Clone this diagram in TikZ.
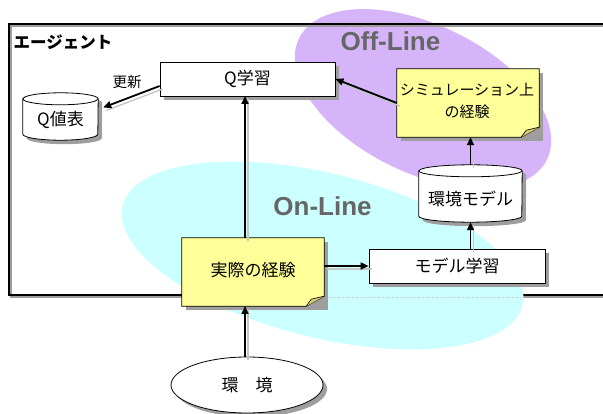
\documentclass[tikz,border=0pt]{standalone}
\usepackage{fontspec}
\setmainfont{Noto Sans CJK JP}
\newfontfamily\arialf{Liberation Sans}
\usetikzlibrary{arrows.meta,calc,shadows,shapes.geometric}
\pgfdeclarelayer{back}
\pgfdeclarelayer{mid}
\pgfsetlayers{back,mid,main}
\definecolor{noteyellow}{HTML}{FFFF99}
\definecolor{foldc}{HTML}{D8CC70}
\definecolor{offpurple}{RGB}{214,180,250}
\definecolor{oncyan}{HTML}{CCFFFF}
\definecolor{shadowc}{gray}{0.62}
\definecolor{labelgray}{HTML}{666666}
\newcommand\cylpath[3]{($(#1.north west)+(0,-#3)$) -- ($(#1.south west)+(0,#3)$) arc[start angle=180,end angle=360,x radius=#2,y radius=#3] -- ($(#1.north east)+(0,-#3)$) arc[start angle=0,end angle=180,x radius=#2,y radius=#3] -- cycle}
\newcommand\drawcyl[3]{%
  \fill[shadowc, transform canvas={shift={(4pt,-4pt)}}] \cylpath{#1}{#2}{#3};
  \draw[fill=white, line width=0.8pt] \cylpath{#1}{#2}{#3};
  \draw[line width=0.8pt] ($(#1.north west)+(0,-#3)$) arc[start angle=180,end angle=360,x radius=#2,y radius=#3];}
\newcommand\drawnote[1]{%
  \fill[shadowc, transform canvas={shift={(4pt,-4pt)}}] (#1.north west) rectangle (#1.south east);
  \draw[fill=noteyellow, line width=0.8pt] (#1.north west) -- (#1.north east) -- ($(#1.south east)+(0,10)$) -- ($(#1.south east)+(-18,0)$) -- (#1.south west) -- cycle;
  \draw[fill=foldc, line width=0.6pt] ($(#1.south east)+(-18,0)$) -- ($(#1.south east)+(-13,7)$) -- ($(#1.south east)+(0,10)$);}
\begin{document}
\begin{tikzpicture}[x=1pt,y=1pt,
  txt/.style={inner sep=0pt, font=\fontsize{17}{20}\selectfont},
  holder/.style={inner sep=0pt, draw=none},
  boxn/.style={draw, line width=0.8pt, fill=white, inner sep=0pt, font=\fontsize{17}{20}\selectfont,
    drop shadow={shadow xshift=4pt, shadow yshift=-4pt, fill=shadowc, opacity=1}},
  envshape/.style={ellipse, draw, line width=0.8pt, fill=white, inner sep=0pt, font=\fontsize{17}{20}\selectfont,
    drop shadow={shadow xshift=4pt, shadow yshift=-4pt, fill=shadowc, opacity=1}},
  bigtag/.style={inner sep=0pt, text=labelgray, font=\arialf\bfseries\fontsize{26}{30}\selectfont},
  arr/.style={draw=black, line width=1.8pt, -{Triangle[length=8pt,width=7pt]}},
  arrshadow/.style={draw=gray!45, line width=1.4pt, transform canvas={shift={(3pt,-3pt)}}}]
\useasboundingbox (0,0) rectangle (603,-414);

% nodes
\node[boxn, minimum width=175pt, minimum height=34pt] (ql) at (247.5,-79) {Q学習};
\node[holder, minimum width=75pt, minimum height=47pt] (qv) at (60.5,-116.5) {};
\node[txt] (qvt) at (60.5,-120) {Q値表};
\node[txt, font=\fontsize{14.5}{17}\selectfont] (upd) at (127,-82) {更新};
\node[holder, minimum width=142pt, minimum height=68pt] (sim) at (468,-103) {};
\node[txt, align=center, font=\fontsize{15}{22}\selectfont] (simt) at (467,-101) {シミュレーション上\\の経験};
\node[holder, minimum width=103pt, minimum height=57pt] (em) at (470.5,-193.5) {};
\node[txt] (emt) at (470.5,-199) {環境モデル};
\node[holder, minimum width=142pt, minimum height=68pt] (jz) at (253,-272) {};
\node[txt] (jzt) at (253,-270) {実際の経験};
\node[boxn, minimum width=176pt, minimum height=34pt] (ml) at (457,-266) {モデル学習};
\node[envshape, minimum width=152pt, minimum height=56pt] (env) at (247,-385) {環　境};
\node[inner sep=0pt, font=\bfseries\fontsize{16.5}{19}\selectfont] (agent) at (63,-42) {エージェント};
\node[bigtag] (off) at (390.5,-41) {Off-Line};
\node[bigtag] (on) at (322.5,-206) {On-Line};

\coordinate (jztop) at (245,-238);
\coordinate (qlbot) at (245,-96);
\coordinate (envtop) at (245,-357);
\coordinate (jzbot) at (245,-306);

% background: regions and agent frame
\begin{pgfonlayer}{back}
  \fill[offpurple] (423,-99) ellipse[x radius=138, y radius=74, rotate=-26];
  \draw[shadowc, line width=1.6pt, transform canvas={shift={(2pt,-2pt)}}] (603,-24) -- (9,-24) -- (9,-295) -- (603,-295);
  \draw[line width=1.6pt] (603,-24) -- (9,-24) -- (9,-295) -- (603,-295);
  \fill[oncyan] (322.5,-255.5) ellipse[x radius=206, y radius=82, rotate=-14];
  \draw[gray!40, line width=0.8pt, dash pattern=on 1.5pt off 1pt] (327,-297) -- (522,-297);
  \draw[line width=1.6pt] (9,-295) -- (182,-295);
\end{pgfonlayer}

\begin{pgfonlayer}{mid}
  \drawcyl{qv}{37.5}{6}
  \drawcyl{em}{51.5}{6}
  \drawnote{sim}
  \drawnote{jz}
\end{pgfonlayer}

% connector shadows
\draw[arrshadow] ([yshift=-7pt]ql.west) -- ([shift={(5pt,9pt)}]qv.east);
\draw[arrshadow] (sim.west) -- (ql.east);
\draw[arrshadow] (em.north) -- (em.north |- sim.south);
\draw[arrshadow] (em.south |- ml.north) -- (em.south);
\draw[arrshadow] (ml.west -| jz.east) -- (ml.west);
\draw[arrshadow] (jztop) -- (qlbot);
\draw[arrshadow] (envtop) -- (jzbot);
% connectors
\draw[arr] ([yshift=-7pt]ql.west) -- ([shift={(5pt,9pt)}]qv.east);
\draw[arr] (sim.west) -- (ql.east);
\draw[arr] (em.north) -- (em.north |- sim.south);
\draw[arr] (em.south |- ml.north) -- (em.south);
\draw[arr] (ml.west -| jz.east) -- (ml.west);
\draw[arr] (jztop) -- (qlbot);
\draw[arr] (envtop) -- (jzbot);
\end{tikzpicture}
\end{document}
